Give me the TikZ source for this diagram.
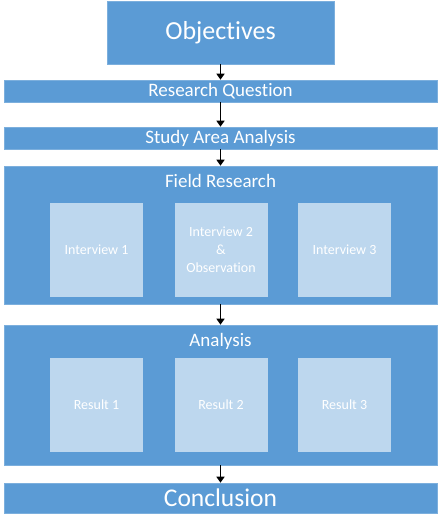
\documentclass[tikz,border=0pt]{standalone}
\usepackage{fontspec}
\setmainfont{Carlito}[Ligatures=NoCommon]
\usetikzlibrary{arrows.meta}
\definecolor{mainblue}{HTML}{5B9BD5}
\definecolor{lightblue}{HTML}{BDD7EE}
\begin{document}
\begin{tikzpicture}[x=1pt,y=-1pt,
  bar/.style={fill=mainblue,draw=mainblue!80!white,line width=0.6pt,inner sep=0pt,text=white,minimum width=433pt},
  inner/.style={fill=lightblue,inner sep=0pt,text=white,minimum width=93pt,minimum height=94pt,align=center,font=\fontsize{14}{18}\selectfont},
  conn/.style={-{Triangle[length=6pt,width=8pt]},line width=1.6pt,black}]
\useasboundingbox (0,0) rectangle (443,518);
\node[bar,minimum width=227pt,minimum height=63pt,font=\fontsize{26}{30}\selectfont] (obj) at (220.5,32.5) {Objectives};
\node[bar,minimum height=22pt,font=\fontsize{19}{20}\selectfont] (rq) at (220.5,91) {Research Question};
\node[bar,minimum height=22pt,font=\fontsize{19}{20}\selectfont] (saa) at (220.5,138) {Study Area Analysis};
\node[bar,minimum height=138pt] (fr) at (220.5,235) {};
\node[text=white,font=\fontsize{19}{20}\selectfont] (frt) at (220.5,181) {Field Research};
\node[inner] (i1) at (96.5,250) {Interview 1};
\node[inner] (i2) at (221,250) {Interview 2\\\&\\Observation};
\node[inner] (i3) at (344.5,250) {Interview 3};
\node[bar,minimum height=140pt] (an) at (220.5,395) {};
\node[text=white,font=\fontsize{19}{20}\selectfont] (ant) at (220.5,341) {Analysis};
\node[inner] (r1) at (96.5,405) {Result 1};
\node[inner] (r2) at (221,405) {Result 2};
\node[inner] (r3) at (344.5,405) {Result 3};
\node[bar,minimum height=30pt,font=\fontsize{25.5}{28}\selectfont] (con) at (220.5,498) {Conclusion};
\draw[conn] (obj.south) -- (rq.north);
\draw[conn] (rq.south) -- (saa.north);
\draw[conn] (saa.south) -- (fr.north);
\draw[conn] (fr.south) -- (an.north);
\draw[conn] (an.south) -- (con.north);
\end{tikzpicture}
\end{document}
